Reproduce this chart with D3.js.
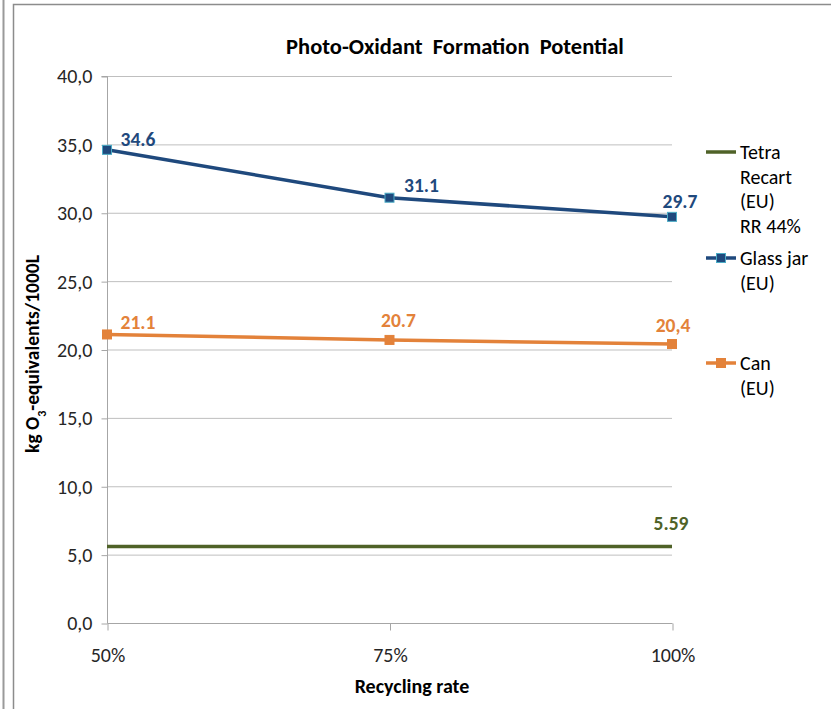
<!DOCTYPE html>
<html><head><meta charset="utf-8">
<script src="https://cdn.jsdelivr.net/npm/d3@7"></script>
<style>
body{margin:0;background:#fff;}
svg{display:block;font-family:Carlito,Lato,"Open Sans",sans-serif;}
</style></head><body>
<svg id="chart" width="831" height="709"></svg>
<script>
const categories = ["50%", "75%", "100%"];
const tetraValues = [5.59, 5.59, 5.59];
const glassValues = [34.6, 31.1, 29.7];
const canValues = [21.1, 20.7, 20.4];
const glassLabels = ["34.6", "31.1", "29.7"];
const canLabels = ["21.1", "20.7", "20,4"];
const tetraLabels = ["", "", "5.59"];
const yTicks = [0, 5, 10, 15, 20, 25, 30, 35, 40];
const legendNames = [["Tetra", "Recart", "(EU)", "RR 44%"], ["Glass jar", "(EU)"], ["Can", "(EU)"]];

const svg = d3.select("#chart");
const W = 831, H = 709;
const m = {left: 107, right: 672, top: 76, bottom: 623};

// outer frames
svg.append("line").attr("x1", 3.5).attr("x2", 3.5).attr("y1", 0).attr("y2", H)
  .attr("stroke", "#9a9a9a").attr("stroke-width", 2);
svg.append("rect").attr("x", 13.5).attr("y", 4.5).attr("width", W).attr("height", H)
  .attr("fill", "none").attr("stroke", "#8c8c8c").attr("stroke-width", 1.5);

const x = d3.scalePoint().domain(categories).range([m.left, m.right]);
const y = d3.scaleLinear().domain([0, 40]).range([m.bottom, m.top]);

// gridlines
svg.append("g").selectAll("line").data(yTicks.filter(d => d > 0)).join("line")
  .attr("x1", m.left).attr("x2", m.right)
  .attr("y1", d => y(d) + 0.5).attr("y2", d => y(d) + 0.5)
  .attr("stroke", "#bfbfbf").attr("stroke-width", 1);

// y axis
const yAxis = d3.axisLeft(y).tickValues(yTicks).tickSize(6).tickPadding(9)
  .tickFormat(d => d3.format(".1f")(d).replace(".", ","));
const gy = svg.append("g").attr("transform", `translate(${m.left + 0.5},0.5)`).call(yAxis);
gy.select(".domain").attr("stroke", "#a6a6a6").attr("d", `M-6,${m.top}H0V${m.bottom}`);
gy.selectAll(".tick line").attr("stroke", "#a6a6a6");
gy.selectAll(".tick text").attr("fill", "#262626").style("font-size", "20px")
  .style("font-family", "Carlito,Lato,sans-serif");

// x axis
const xAxis = d3.axisBottom(x).tickSize(7).tickPadding(17);
const gx = svg.append("g").attr("transform", `translate(0.5,${m.bottom + 0.5})`).call(xAxis);
gx.select(".domain").attr("stroke", "#a6a6a6").attr("d", `M${m.left},0H${m.right}`);
gx.selectAll(".tick line").attr("stroke", "#a6a6a6");
gx.selectAll(".tick text").attr("fill", "#262626").style("font-size", "20px")
  .style("font-family", "Carlito,Lato,sans-serif");

// series
const series = [
  {vals: tetraValues, labels: tetraLabels, color: "#4f6228", marker: null},
  {vals: glassValues, labels: glassLabels, color: "#1f497d", marker: "#1f497d", edge: "#4bacc6"},
  {vals: canValues, labels: canLabels, color: "#e3823a", marker: "#e3823a", edge: "#e3823a"}
];
const line = d3.line().x((d, i) => x(categories[i])).y(d => y(d));
series.forEach(s => {
  svg.append("path").datum(s.vals).attr("d", line).attr("fill", "none")
    .attr("stroke", s.color).attr("stroke-width", 3.5);
  if (s.marker) {
    svg.append("g").selectAll("rect").data(s.vals).join("rect")
      .attr("x", (d, i) => x(categories[i]) - 4.5).attr("y", d => y(d) - 4.5)
      .attr("width", 9).attr("height", 9)
      .attr("fill", s.marker).attr("stroke", s.edge).attr("stroke-width", 1);
  }
});

// data labels (offsets relative to each point)
const labelOffsets = [
  [[0, 0], [0, 0], [-1, -23]],
  [[31, -11], [32, -13], [8, -16]],
  [[31, -12], [9, -20], [1, -19]]
];
series.forEach((s, si) => {
  const items = s.vals.map((v, i) => ({v, i, label: s.labels[i]})).filter(d => d.label !== "");
  svg.append("g").selectAll("text").data(items).join("text")
    .attr("x", d => x(categories[d.i]) + labelOffsets[si][d.i][0])
    .attr("y", d => y(d.v) + labelOffsets[si][d.i][1])
    .attr("text-anchor", "middle").attr("dy", "0.35em")
    .attr("fill", s.color).style("font-weight", "bold").style("font-size", "19.5px")
    .text(d => d.label);
});

// title
svg.append("text").attr("x", 455).attr("y", 54).attr("text-anchor", "middle")
  .style("font-weight", "bold").style("font-size", "22.5px").attr("fill", "#000")
  .attr("xml:space", "preserve").text("Photo-Oxidant  Formation  Potential");

// axis titles
const yl = svg.append("text").attr("transform", "translate(39,354) rotate(-90)")
  .attr("text-anchor", "middle").style("font-weight", "bold").style("font-size", "19.5px").attr("fill", "#000");
yl.append("tspan").text("kg O");
yl.append("tspan").attr("baseline-shift", "sub").style("font-size", "12px").text("3");
yl.append("tspan").text("-equivalents/1000L");
svg.append("text").attr("x", 412).attr("y", 693).attr("text-anchor", "middle")
  .style("font-weight", "bold").style("font-size", "20px").attr("fill", "#000").text("Recycling rate");

// legend
const legendY = [152, 258, 363];
series.forEach((s, si) => {
  const g = svg.append("g").attr("transform", `translate(0,${legendY[si]})`);
  g.append("line").attr("x1", 706).attr("x2", 736).attr("y1", 0).attr("y2", 0)
    .attr("stroke", s.color).attr("stroke-width", 3.5);
  if (s.marker) g.append("rect").attr("x", 716.5).attr("y", -4.5).attr("width", 9).attr("height", 9)
    .attr("fill", s.marker).attr("stroke", s.edge);
  legendNames[si].forEach((t, li) => {
    g.append("text").attr("x", 740).attr("y", li * 24.6).attr("dy", "0.35em")
      .style("font-size", "20px").attr("fill", "#000").text(t);
  });
});
</script></body></html>
